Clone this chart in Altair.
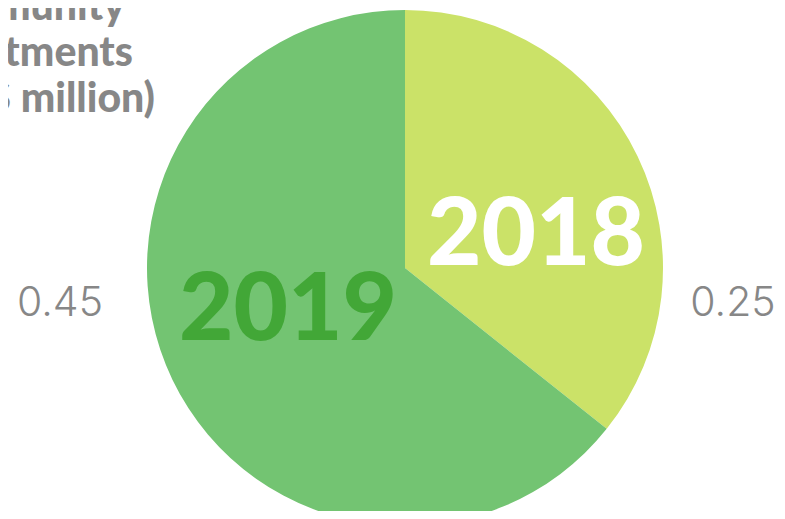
import altair as alt
import pandas as pd

years = ["2018", "2019"]
values = [0.25, 0.45]
value_labels = ["0.25", "0.45"]
slice_colors = ["#cbe268", "#73c472"]
year_label_colors = ["#ffffff", "#42a737"]
title_lines = ["Community", "Investments", "(in $ million)"]

df = pd.DataFrame({"year": years, "value": values, "label": value_labels})

W, H = 769, 503
CX, CY, R = 397, 260, 258

base = alt.Chart(df)

pie = base.mark_arc(outerRadius=R, stroke=None).encode(
    theta=alt.Theta("value:Q", stack=True),
    color=alt.Color("year:N", scale=alt.Scale(domain=years, range=slice_colors), legend=None),
    order=alt.Order("year:N", sort="ascending"),
    x=alt.value(CX),
    y=alt.value(CY),
)

def year_text(yr, color, x, y):
    return base.transform_filter(alt.datum.year == yr).mark_text(
        font="Lato", fontWeight=900, fontSize=94, align="center", baseline="alphabetic", color=color
    ).encode(text="year:N", x=alt.value(x), y=alt.value(y))

t2018 = year_text("2018", year_label_colors[0], 528, 257)
t2019 = year_text("2019", year_label_colors[1], 280, 332)

def val_text(yr, x, y):
    return base.transform_filter(alt.datum.year == yr).mark_text(
        font="Inter", fontWeight=300, fontSize=41, align="center", baseline="alphabetic", color="#878787"
    ).encode(text="label:N", x=alt.value(x), y=alt.value(y))

v2018 = val_text("2018", 725, 308)
v2019 = val_text("2019", 52, 308)

title_df = pd.DataFrame({"t": title_lines, "i": [0, 1, 2]})
title_right = [117, 125, 147]
title_base = [12, 58, 104]
title_layers = []
for i, line in enumerate(title_lines):
    title_layers.append(
        alt.Chart(title_df).transform_filter(alt.datum.i == i).mark_text(
            font="Lato", fontWeight=900, fontSize=41, align="right",
            baseline="alphabetic", color="#878787"
        ).encode(text="t:N", x=alt.value(title_right[i]), y=alt.value(title_base[i]))
    )

chart = alt.layer(pie, t2018, t2019, v2018, v2019, *title_layers).properties(
    width=W, height=H, autosize=alt.AutoSizeParams(type="none"), padding=0
).configure_view(stroke=None)

chart.save("out.html", embed_options={"renderer": "svg", "actions": False})
